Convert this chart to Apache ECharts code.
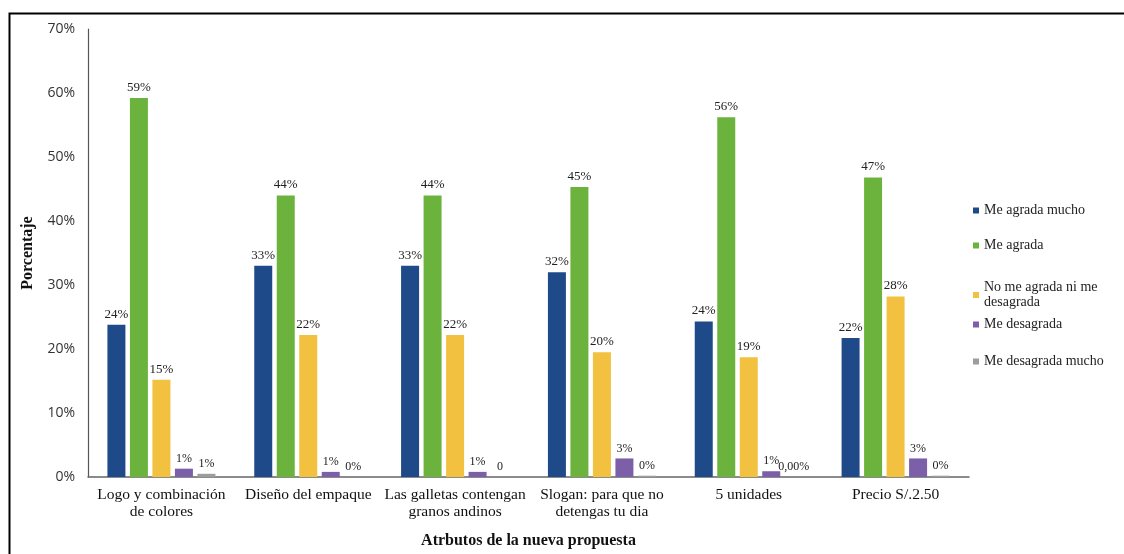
<!DOCTYPE html>
<html>
<head>
<meta charset="utf-8">
<script src="https://cdn.jsdelivr.net/npm/echarts@6/dist/echarts.min.js"></script>
<style>
  html, body { margin: 0; padding: 0; background: #ffffff; }
  #chart { width: 1124px; height: 554px; }
</style>
</head>
<body>
<div id="chart"></div>
<script>
// Attributes evaluated for the new proposal
const categories = [
  'Logo y combinación\nde colores',
  'Diseño del empaque',
  'Las galletas contengan\ngranos andinos',
  'Slogan: para que no\ndetengas tu dia',
  '5 unidades',
  'Precio S/.2.50'
];

// Response shares (%) per attribute
const meAgradaMucho    = [23.8, 33.0, 33.0, 32.0, 24.3, 21.7];
const meAgrada         = [59.2, 44.0, 44.0, 45.3, 56.2, 46.8];
const niAgradaNiDesag  = [15.2, 22.2, 22.2, 19.5, 18.7, 28.2];
const meDesagrada      = [1.3, 0.8, 0.8, 2.9, 0.9, 2.9];
const meDesagradaMucho = [0.5, 0.0, 0.0, 0.2, 0.0, 0.2];

// Printed value labels
const lblAgradaMucho    = ['24%', '33%', '33%', '32%', '24%', '22%'];
const lblAgrada         = ['59%', '44%', '44%', '45%', '56%', '47%'];
const lblNi             = ['15%', '22%', '22%', '20%', '19%', '28%'];
const lblDesagrada      = ['1%', '1%', '1%', '3%', '1%', '3%'];
const lblDesagradaMucho = ['1%', '0%', '0', '0%', '0,00%', '0%'];

const yTicks = { min: 0, max: 70, interval: 10 };

const seriesNames = [
  'Me agrada mucho',
  'Me agrada',
  'No me agrada ni me\ndesagrada',
  'Me desagrada',
  'Me desagrada mucho'
];
const seriesColors = ['#1f4a8a', '#6cb33e', '#f3c140', '#7b5fa8', '#9c9c9c'];
const seriesData = [meAgradaMucho, meAgrada, niAgradaNiDesag, meDesagrada, meDesagradaMucho];
const seriesLabels = [lblAgradaMucho, lblAgrada, lblNi, lblDesagrada, lblDesagradaMucho];
const legendTops = [198, 233, 275, 312, 349];

const serif = '"Liberation Serif", "DejaVu Serif", serif';
const sans = '"Open Sans", "Liberation Sans", sans-serif';

const chart = echarts.init(document.getElementById('chart'), null, { renderer: 'canvas' });

const series = seriesNames.map((name, i) => ({
  name: name,
  type: 'bar',
  barWidth: 18,
  barGap: '25%',
  itemStyle: { color: seriesColors[i] },
  label: {
    show: true,
    position: 'top',
    distance: 4,
    fontFamily: serif,
    fontSize: i >= 3 ? 12 : 13,
    color: '#222',
    formatter: p => seriesLabels[i][p.dataIndex]
  },
  data: seriesData[i]
}));

const legends = seriesNames.map((name, i) => ({
  data: [name],
  orient: 'vertical',
  left: 968,
  top: legendTops[i],
  icon: 'rect',
  itemWidth: 6,
  itemHeight: 6,
  itemGap: 4,
  selectedMode: false,
  textStyle: { fontFamily: serif, fontSize: 14, color: '#222', lineHeight: 15 }
}));

chart.setOption({
  animation: false,
  backgroundColor: '#ffffff',
  grid: { left: 88, right: 155, top: 29, bottom: 73 },
  legend: legends,
  xAxis: {
    type: 'category',
    data: categories,
    name: 'Atrbutos de la nueva propuesta',
    nameLocation: 'middle',
    nameGap: 56,
    nameTextStyle: { fontFamily: serif, fontSize: 16, fontWeight: 'bold', color: '#111' },
    axisLine: { lineStyle: { color: '#666', width: 1.5 } },
    axisTick: { show: false },
    axisLabel: { fontFamily: serif, fontSize: 15.5, color: '#111', margin: 9, lineHeight: 17, interval: 0 }
  },
  yAxis: {
    type: 'value',
    min: yTicks.min,
    max: yTicks.max,
    interval: yTicks.interval,
    name: 'Porcentaje',
    nameLocation: 'middle',
    nameGap: 52,
    nameTextStyle: { fontFamily: serif, fontSize: 16, fontWeight: 'bold', color: '#111' },
    axisLine: { show: true, lineStyle: { color: '#555', width: 1.2 } },
    axisTick: { show: false },
    splitLine: { show: false },
    axisLabel: { fontFamily: sans, fontSize: 14, color: '#333', margin: 13, formatter: '{value}%' }
  },
  graphic: [{
    type: 'rect',
    left: 7,
    top: 11,
    shape: { width: 1200, height: 600 },
    style: { fill: 'none', stroke: '#000', lineWidth: 2 },
    silent: true
  }],
  series: series
});
</script>
</body>
</html>
